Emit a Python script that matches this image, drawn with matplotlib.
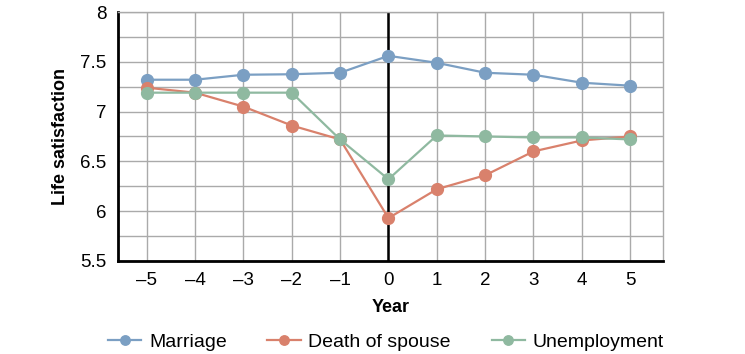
import numpy as np
import matplotlib
matplotlib.use('Agg')
import matplotlib.pyplot as plt

plt.rcParams['font.family'] = ['Liberation Sans', 'DejaVu Sans']

# --- data ---
years = [-5, -4, -3, -2, -1, 0, 1, 2, 3, 4, 5]
marriage = [7.32, 7.32, 7.37, 7.375, 7.39, 7.56, 7.49, 7.39, 7.37, 7.29, 7.26]
death_of_spouse = [7.24, 7.19, 7.05, 6.86, 6.72, 5.93, 6.22, 6.36, 6.60, 6.71, 6.75]
unemployment = [7.19, 7.19, 7.19, 7.19, 6.72, 6.32, 6.76, 6.75, 6.74, 6.74, 6.72]

series = [
    ('Marriage', marriage, '#7b9fc3'),
    ('Death of spouse', death_of_spouse, '#d9816c'),
    ('Unemployment', unemployment, '#8fb9a0'),
]

fig = plt.figure(figsize=(7.45, 3.54), dpi=100)
ax = fig.add_axes([0.158, 0.263, 0.732, 0.703])

for name, vals, col in series:
    ax.plot(years, vals, '-o', color=col, lw=1.6, ms=8.5, label=name, zorder=3)

ax.set_xlim(-5.6, 5.68)
ax.set_ylim(5.5, 8)
ax.set_xticks(years)
ax.set_xticklabels([str(y).replace('-', '\u2013') for y in years])
ax.set_yticks([5.5, 6, 6.5, 7, 7.5, 8])
ax.set_yticklabels(['5.5', '6', '6.5', '7', '7.5', '8'])
ax.set_yticks(np.arange(5.5, 8.01, 0.25), minor=True)
ax.grid(True, which='both', color='#aaaaaa', lw=1)
ax.set_axisbelow(True)
ax.axvline(0, color='black', lw=1.8, zorder=2)

ax.tick_params(axis='both', which='both', length=0, labelsize=13.5, pad=8)
for s in ['top', 'right']:
    ax.spines[s].set_color('#aaaaaa')
    ax.spines[s].set_linewidth(1)
for s in ['left', 'bottom']:
    ax.spines[s].set_color('black')
    ax.spines[s].set_linewidth(2)

ax.set_xlabel('Year', fontsize=13, fontweight='bold', labelpad=7)
ax.set_ylabel('Life satisfaction', fontsize=13, fontweight='bold', labelpad=8)

fig.legend(loc='lower center', bbox_to_anchor=(0.518, -0.04), ncol=3, frameon=False,
           fontsize=14, handlelength=1.7, columnspacing=2.1, handletextpad=0.4,
           markerscale=0.8)

plt.savefig('out.png', dpi=100)
